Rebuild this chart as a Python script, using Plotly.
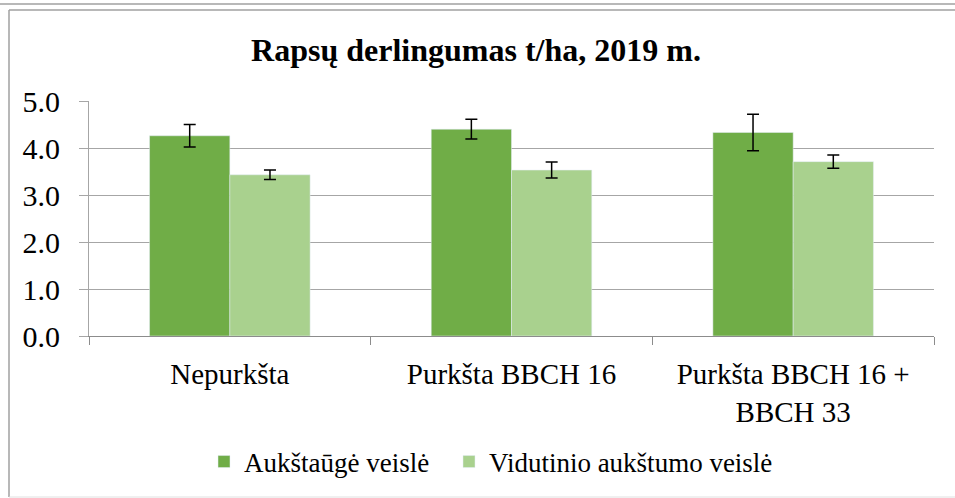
import plotly.graph_objects as go

categories = ["Nepurkšta", "Purkšta BBCH 16", "Purkšta BBCH 16 +<br>BBCH 33"]
series_names = ["Aukštaūgė veislė", "Vidutinio aukštumo veislė"]
tall_values = [4.26, 4.40, 4.33]
tall_errors = [0.24, 0.21, 0.39]
mid_values = [3.43, 3.53, 3.71]
mid_errors = [0.10, 0.17, 0.14]
y_ticks = [0, 1, 2, 3, 4, 5]

W, H = 955, 498
L, R, T, B = 89, 21, 101, 162
PW, PH = W - L - R, H - T - B

def px(x):
    return (x - L) / PW

def py(y):
    return 1 - (y - T) / PH

font = "Liberation Serif"

fig = go.Figure()
fig.add_trace(go.Bar(
    x=categories, y=tall_values, name=series_names[0],
    marker=dict(color="#70AD47"), legend="legend",
    error_y=dict(type="data", array=tall_errors, color="black", thickness=1.5, width=6),
))
fig.add_trace(go.Bar(
    x=categories, y=mid_values, name=series_names[1],
    marker=dict(color="#A9D18E"), legend="legend2",
    error_y=dict(type="data", array=mid_errors, color="black", thickness=1.5, width=6),
))

shapes = [
    dict(type="line", xref="paper", yref="paper", x0=px(0), x1=px(W), y0=py(4), y1=py(4),
         line=dict(color="#A0A0A0", width=1.5)),
    dict(type="line", xref="paper", yref="paper", x0=px(9), x1=px(W), y0=py(10), y1=py(10),
         line=dict(color="#A0A0A0", width=1.5)),
    dict(type="line", xref="paper", yref="paper", x0=px(9), x1=px(9), y0=py(10), y1=py(497),
         line=dict(color="#A0A0A0", width=1.5)),
    dict(type="line", xref="paper", yref="paper", x0=px(9), x1=px(W), y0=py(497), y1=py(497),
         line=dict(color="#E0E0E0", width=1)),
]

legend_common = dict(orientation="h", yanchor="middle", y=py(462), xanchor="left",
                     font=dict(family=font, size=27, color="black"), itemwidth=30,
                     bgcolor="rgba(0,0,0,0)")

fig.update_layout(
    width=W, height=H,
    margin=dict(l=L, r=R, t=T, b=B),
    paper_bgcolor="white", plot_bgcolor="white",
    barmode="group", bargap=0.43, bargroupgap=0,
    title=dict(text="<b>Rapsų derlingumas t/ha, 2019 m.</b>", x=px(476), xanchor="center",
               xref="paper",
               y=1 - 50 / H, yanchor="middle",
               font=dict(family=font, size=32, color="black")),
    font=dict(family=font, color="black"),
    showlegend=True,
    legend=dict(x=px(204), **legend_common),
    legend2=dict(x=px(449), **legend_common),
    shapes=shapes,
)
fig.update_yaxes(
    range=[0, 5], tickvals=y_ticks, tickformat=".1f",
    showgrid=True, gridcolor="#A6A6A6", gridwidth=1,
    showline=True, linecolor="#A6A6A6", linewidth=1,
    ticks="outside", ticklen=9, tickcolor="#A6A6A6",
    tickfont=dict(family=font, size=30, color="black"),
    ticklabelstandoff=13,
    zeroline=False,
)
fig.update_xaxes(
    showline=True, linecolor="#8C8C8C", linewidth=1,
    ticks="outside", tickson="boundaries", ticklen=8, tickcolor="#8C8C8C",
    tickfont=dict(family=font, size=29, color="black"),
    ticklabelstandoff=12,
    mirror=False,
)

fig.write_html("out.html", config={"displayModeBar": False},
               post_script="document.body.style.margin='0';document.body.style.padding='0';")
